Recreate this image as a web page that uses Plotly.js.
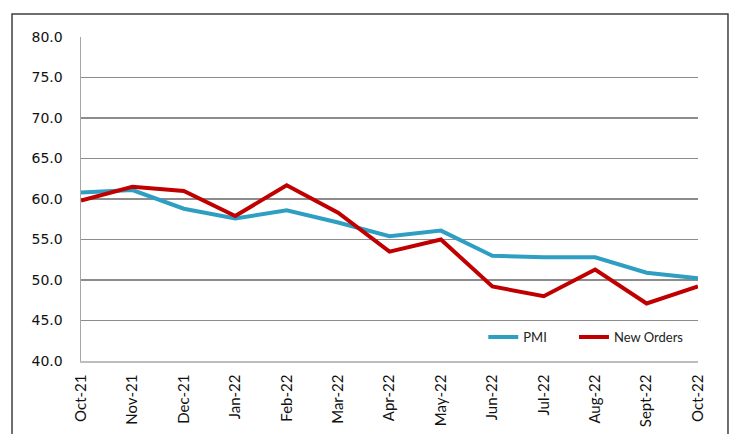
<!DOCTYPE html>
<html><head><meta charset="utf-8">
<script src="https://cdn.plot.ly/plotly-3.0.1.min.js"></script>
<style>html,body{margin:0;padding:0;background:#fff}#c{width:733px;height:434px}</style>
</head><body><div id="c"></div>
<script>
const months = ["Oct-21","Nov-21","Dec-21","Jan-22","Feb-22","Mar-22","Apr-22","May-22","Jun-22","Jul-22","Aug-22","Sept-22","Oct-22"];
const pmi = [60.8,61.1,58.8,57.6,58.6,57.1,55.4,56.1,53.0,52.8,52.8,50.9,50.2];
const newOrders = [59.8,61.5,61.0,57.9,61.7,58.3,53.5,55.0,49.2,48.0,51.3,47.1,49.2];
const yTicks = [40,45,50,55,60,65,70,75,80];

const traces = [
  {x: months, y: pmi, name: "PMI", type: "scatter", mode: "lines", legend: "legend",
   line: {color: "#2E9FC2", width: 4}},
  {x: months, y: newOrders, name: "New Orders", type: "scatter", mode: "lines", legend: "legend2",
   line: {color: "#C00000", width: 4}}
];
const legFont = {family: "Lato, Calibri, sans-serif", size: 13, color: "#222"};
const layout = {
  width: 733, height: 434,
  margin: {l: 81, r: 35, t: 37, b: 73},
  paper_bgcolor: "#fff", plot_bgcolor: "#fff",
  showlegend: true,
  legend: {orientation: "h", x: 0.652, y: 0.074, xanchor: "left", yanchor: "middle",
           font: legFont, bgcolor: "rgba(0,0,0,0)"},
  legend2: {orientation: "h", x: 0.799, y: 0.074, xanchor: "left", yanchor: "middle",
           font: legFont, bgcolor: "rgba(0,0,0,0)"},
  xaxis: {type: "category", range: [0, 12], showgrid: false, zeroline: false,
          showline: true, linecolor: "#bdbdbd", linewidth: 1.5,
          tickangle: -90, ticks: "", ticklabelstandoff: 6,
          tickfont: {family: "Lato, Calibri, sans-serif", size: 15, color: "#111"}},
  yaxis: {range: [40, 80], tickvals: yTicks, tickformat: ".1f",
          showgrid: true, gridcolor: "#8c8c8c", gridwidth: 1.5, zeroline: false,
          showline: true, linecolor: "#a6a6a6", linewidth: 1.5, ticks: "",
          ticklabelstandoff: 14,
          tickfont: {family: "DejaVu Sans, sans-serif", size: 14, color: "#111"}},
  shapes: [
    {type: "rect", xref: "paper", yref: "paper", x0: -0.1118, x1: 1.0486, y0: -0.25, y1: 1.071,
     line: {color: "#404040", width: 1.5}, fillcolor: "rgba(0,0,0,0)", layer: "above"}
  ]
};
Plotly.newPlot("c", traces, layout, {displayModeBar: false, staticPlot: true});
</script></body></html>
